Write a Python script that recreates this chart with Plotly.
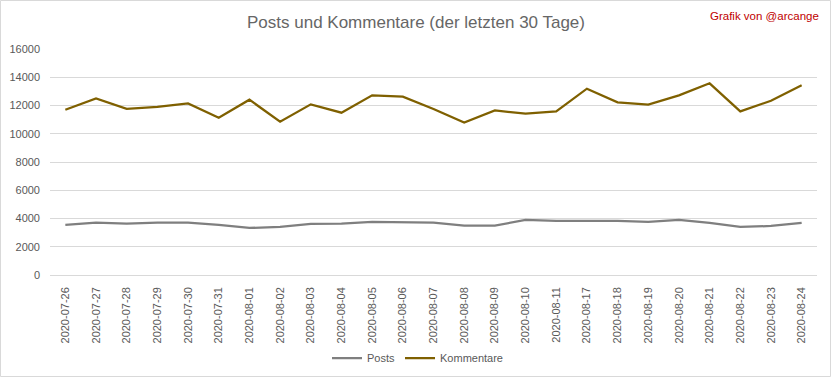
import plotly.graph_objects as go

dates = ["2020-07-26", "2020-07-27", "2020-07-28", "2020-07-29", "2020-07-30", "2020-07-31",
         "2020-08-01", "2020-08-02", "2020-08-03", "2020-08-04", "2020-08-05", "2020-08-06",
         "2020-08-07", "2020-08-08", "2020-08-09", "2020-08-10", "2020-08-11",
         "2020-08-17", "2020-08-18", "2020-08-19", "2020-08-20", "2020-08-21", "2020-08-22",
         "2020-08-23", "2020-08-24"]

posts = [3550, 3710, 3640, 3710, 3710, 3550, 3330, 3400, 3620, 3640, 3760, 3710,
         3710, 3500, 3500, 3900, 3830, 3830, 3830, 3760, 3900, 3690, 3400, 3470, 3690]

kommentare = [11700, 12500, 11770, 11900, 12150, 11130, 12410, 10850, 12080, 11490, 12720, 12620,
              11750, 10800, 11650, 11420, 11580, 13190, 12220, 12060, 12720, 13570, 11580, 12340, 13430]

W, H = 832, 378
L, R, T, B = 50, 15, 49, 103
PW, PH = W - L - R, H - T - B

font = "Liberation Sans, Arial, sans-serif"
grey = "#595959"

fig = go.Figure()
fig.add_trace(go.Scatter(x=dates, y=posts, name="Posts", mode="lines",
                         line=dict(color="#7F7F7F", width=2.25)))
fig.add_trace(go.Scatter(x=dates, y=kommentare, name="Kommentare", mode="lines",
                         line=dict(color="#7F6000", width=2.25)))

fig.update_layout(
    width=W, height=H,
    margin=dict(l=L, r=R, t=T, b=B, autoexpand=False),
    paper_bgcolor="white", plot_bgcolor="white",
    font=dict(family=font, color=grey, size=11),
    title=dict(text="Posts und Kommentare (der letzten 30 Tage)", x=0.5, xanchor="center",
               xref="container", yref="container", y=1 - 22 / H, yanchor="middle",
               font=dict(family=font, size=17, color="#666666")),
    showlegend=True,
    legend=dict(orientation="h", x=0.5 - 16 / PW, xanchor="center", y=(T + PH - 358) / PH,
                yanchor="middle", font=dict(size=11, color=grey), itemwidth=30,
                bgcolor="rgba(0,0,0,0)"),
    xaxis=dict(type="category", range=[-0.5, len(dates) - 0.5], tickangle=-90,
               showgrid=False, showline=False, zeroline=False, ticks="", automargin=False,
               tickfont=dict(size=11, color=grey), ticklabelstandoff=9),
    yaxis=dict(range=[0, 16000], dtick=2000, tickformat="d", showgrid=True, gridcolor="#D9D9D9",
               gridwidth=1, zeroline=True, zerolinecolor="#D9D9D9", zerolinewidth=1, showline=False,
               ticks="", automargin=False, tickfont=dict(size=11, color=grey), ticklabelstandoff=9),
    annotations=[dict(text="Grafik von @arcange", xref="paper", yref="paper",
                      x=(821 - L) / PW, xanchor="right", y=(T + PH - 16) / PH, yanchor="middle",
                      showarrow=False, font=dict(family=font, size=11.5, color="#C00000"))],
    shapes=[dict(type="rect", xref="paper", yref="paper",
                 x0=(0.5 - L) / PW, x1=(W - 1.5 - L) / PW,
                 y0=(T + PH - (H - 1.5)) / PH, y1=(T + PH - 0.5) / PH,
                 line=dict(color="#D9D9D9", width=1), fillcolor="rgba(0,0,0,0)", layer="below")],
)

fig.write_html("out.html", config={"displayModeBar": False},
               post_script="document.body.style.margin='0';document.body.style.padding='0';"
                           "document.documentElement.style.overflow='hidden';")
